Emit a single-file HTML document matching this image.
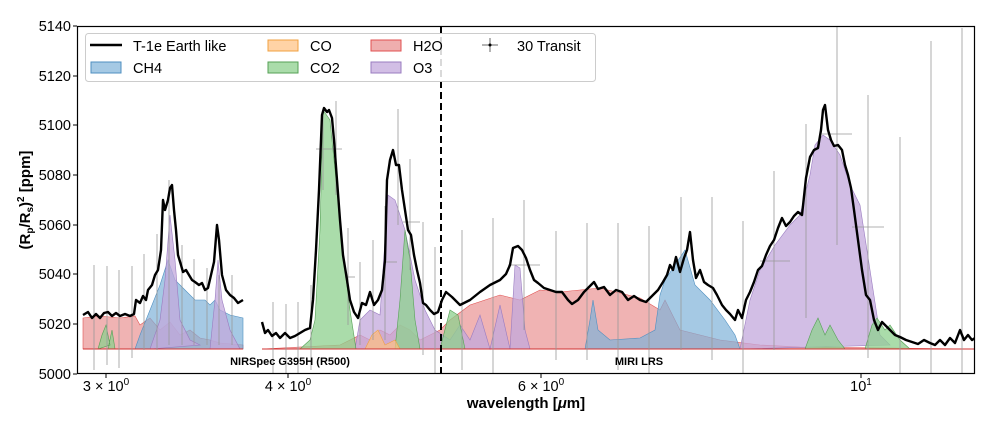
<!DOCTYPE html>
<html><head><meta charset="utf-8"><style>
body{margin:0;background:#fff;}
svg{display:block;font-family:"Liberation Sans","DejaVu Sans",sans-serif;}
</style></head><body>
<svg width="1000" height="422" viewBox="0 0 1000 422" xmlns="http://www.w3.org/2000/svg">
<defs><clipPath id="c"><rect x="77" y="26" width="898" height="348"/></clipPath></defs>
<g clip-path="url(#c)">
<!-- H2O fills -->
<g fill="#e88b8b" fill-opacity="0.65" stroke="#e05050" stroke-width="0.6">
<path d="M83,349 L83,318 L100,316 L120,318 L135,316 L140,325 L150,318 L160,330 L170,322 L180,335 L190,330 L200,338 L210,340 L220,343 L243,345 L243,349Z"/>
<path d="M262,349 L300,347 L340,345 L350,340 L360,335 L370,340 L380,330 L390,335 L400,325 L410,330 L420,340 L430,335 L440,330 L450,320 L470,305 L500,295 L520,300 L540,290 L560,292 L600,288 L640,298 L660,310 L665,300 L680,330 L700,335 L720,340 L760,345 L800,347 L975,349Z"/>
</g>
<!-- CH4 -->
<g fill="#7fb2d8" fill-opacity="0.7" stroke="#4f8fc0" stroke-width="0.6">
<path d="M135,349 L140,335 L150,310 L160,285 L168,260 L175,280 L185,290 L195,300 L205,300 L210,305 L215,300 L220,310 L230,315 L243,318 L243,349Z"/>
<path d="M585,349 L590,320 L593,300 L598,330 L610,340 L640,338 L655,330 L660,295 L665,280 L675,265 L685,250 L695,285 L710,300 L725,320 L735,335 L740,349Z"/>
</g>
<!-- O3 -->
<g fill="#c3a8dc" fill-opacity="0.75" stroke="#9a7cc0" stroke-width="0.6">
<path d="M150,349 L160,320 L165,280 L170,215 L175,260 L180,320 L190,340 L200,345Z"/>
<path d="M210,349 L215,300 L218,260 L222,300 L230,330 L240,349Z"/>
<path d="M355,349 L360,320 L370,310 L380,315 L388,195 L395,200 L405,230 L415,280 L425,310 L435,330 L450,340 L460,325 L470,340 L480,315 L490,349 L500,305 L510,349 L515,265 L520,268 L525,330 L530,349Z"/>
<path d="M740,349 L750,300 L760,270 L775,245 L790,225 L800,215 L810,175 L815,145 L823,135 L830,140 L840,155 L850,185 L860,205 L870,270 L880,335 L890,345Z"/>
</g>
<!-- CO2 -->
<g fill="#8ed08e" fill-opacity="0.75" stroke="#55a055" stroke-width="0.6">
<path d="M98,349 L102,335 L106,325 L110,345 Z M108,349 L112,330 L115,349Z"/>
<path d="M300,349 L310,340 L315,320 L320,230 L323,110 L330,120 L335,170 L340,220 L345,270 L350,310 L356,349Z"/>
<path d="M395,349 L400,300 L405,230 L410,260 L415,320 L420,349Z"/>
<path d="M440,349 L450,310 L458,315 L465,349Z"/>
<path d="M805,349 L812,330 L818,318 L825,335 L830,325 L838,340 L845,349Z M865,349 L872,325 L877,318 L885,330 L890,325 L900,340 L910,349Z"/>
</g>
<!-- CO -->
<path d="M365,349 L372,335 L378,330 L385,345 L395,340 L400,349Z" fill="#ffc080" fill-opacity="0.7" stroke="#f0a040" stroke-width="0.6"/>
<!-- baseline -->
<line x1="83" y1="349" x2="243" y2="349" stroke="#d03030" stroke-width="1"/>
<line x1="262" y1="349" x2="975" y2="349" stroke="#d03030" stroke-width="1"/>
<!-- error bars -->
<g stroke="#999" stroke-width="0.8">
<line x1="94" y1="265" x2="94" y2="370"/><line x1="107" y1="266" x2="107" y2="365"/><line x1="119" y1="270" x2="119" y2="368"/><line x1="132" y1="266" x2="132" y2="358"/>
<line x1="144" y1="254" x2="144" y2="350"/><line x1="157" y1="234" x2="157" y2="350"/><line x1="169" y1="180" x2="169" y2="345"/><line x1="182" y1="245" x2="182" y2="345"/>
<line x1="194" y1="259" x2="194" y2="345"/><line x1="207" y1="268" x2="207" y2="345"/><line x1="219" y1="275" x2="219" y2="345"/><line x1="232" y1="275" x2="232" y2="345"/>
<line x1="273" y1="302" x2="273" y2="380"/><line x1="286" y1="304" x2="286" y2="380"/><line x1="298" y1="302" x2="298" y2="380"/><line x1="311" y1="285" x2="311" y2="370"/>
<line x1="323" y1="110" x2="323" y2="190"/><line x1="336" y1="101" x2="336" y2="195"/><line x1="348" y1="228" x2="348" y2="325"/><line x1="360" y1="262" x2="360" y2="345"/>
<line x1="373" y1="240" x2="373" y2="340"/><line x1="385" y1="206" x2="385" y2="340"/><line x1="398" y1="109" x2="398" y2="225"/><line x1="410" y1="159" x2="410" y2="270"/>
<line x1="423" y1="222" x2="423" y2="355"/><line x1="435" y1="247" x2="435" y2="374"/><line x1="462" y1="230" x2="462" y2="370"/><line x1="493" y1="218" x2="493" y2="374"/>
<line x1="524" y1="200" x2="524" y2="330"/><line x1="556" y1="231" x2="556" y2="360"/><line x1="587" y1="223" x2="587" y2="360"/><line x1="618" y1="223" x2="618" y2="370"/>
<line x1="649" y1="226" x2="649" y2="374"/><line x1="681" y1="197" x2="681" y2="350"/><line x1="712" y1="197" x2="712" y2="360"/><line x1="743" y1="221" x2="743" y2="374"/>
<line x1="774" y1="171" x2="774" y2="350"/><line x1="806" y1="124" x2="806" y2="318"/><line x1="837" y1="26" x2="837" y2="245"/><line x1="868" y1="95" x2="868" y2="358"/>
<line x1="900" y1="137" x2="900" y2="374"/><line x1="931" y1="41" x2="931" y2="374"/><line x1="962" y1="28" x2="962" y2="374"/>
<line x1="760" y1="261" x2="790" y2="261"/><line x1="822" y1="134" x2="852" y2="134"/><line x1="852" y1="227" x2="884" y2="227"/><line x1="508" y1="265" x2="540" y2="265"/>
<line x1="316" y1="149" x2="342" y2="149"/><line x1="385" y1="262" x2="397" y2="262"/><line x1="403" y1="222" x2="420" y2="222"/><line x1="345" y1="277" x2="355" y2="277"/>
</g>
<!-- dashed -->
<line x1="441" y1="26" x2="441" y2="374" stroke="#000" stroke-width="2" stroke-dasharray="7,4"/>
<!-- main line -->
<g fill="none" stroke="#000" stroke-width="2.4" stroke-linejoin="round">
<polyline points="83,315 88,312 92,318 96,314 100,318 104,313 108,312 112,316 116,313 120,316 125,314 130,316 134,314 136,300 140,303 143,296 146,300 148,290 152,285 155,275 158,270 161,250 163,200 165,210 168,200 170,188 172,185 174,210 176,230 178,255 181,265 183,272 186,270 189,275 192,280 195,282 199,285 202,283 205,290 208,288 211,275 214,262 217,225 219,240 222,275 226,290 230,295 234,298 238,303 243,300"/>
<polyline points="262,322 265,333 268,330 272,336 276,333 280,338 285,333 290,338 295,336 300,333 305,330 310,328 313,300 316,250 319,190 322,115 324,108 327,112 329,110 332,118 334,140 337,180 340,220 343,255 347,280 350,300 354,312 358,318 362,303 366,305 370,292 374,305 378,300 382,290 385,260 387,180 390,160 393,150 396,165 399,165 402,190 405,210 408,230 411,235 414,255 417,270 420,283 423,303 426,305 430,310 434,314 438,312 442,300 446,292 452,297 460,305 470,300 480,292 490,285 500,280 506,274 510,265 513,248 518,246 522,250 526,258 530,270 534,280 538,283 544,288 550,290 556,292 562,292 568,300 572,304 578,300 584,292 590,286 594,282 598,289 604,287 610,295 616,290 622,292 628,300 634,296 640,300 646,302 652,296 658,290 663,282 667,275 670,265 673,270 676,257 680,272 684,258 687,250 690,232 693,260 696,278 700,270 704,282 708,285 713,288 717,295 722,305 726,310 730,314 735,320 738,310 742,318 746,300 750,292 754,282 758,270 762,266 766,255 770,246 774,240 778,228 782,218 786,226 790,222 794,216 798,212 802,215 806,178 810,157 814,150 818,148 821,130 823,110 825,105 828,130 831,140 834,146 838,145 842,150 845,165 848,175 851,188 854,210 858,240 862,270 866,295 870,300 874,320 878,330 882,322 886,326 890,330 895,335 900,337 906,340 912,342 918,344 924,340 930,343 935,345 940,340 945,345 950,338 955,343 960,330 964,340 968,335 972,340 975,338"/>
</g>
</g>
<!-- axes frame -->
<rect x="77.5" y="26.5" width="897" height="347" fill="none" stroke="#000" stroke-width="1.2"/>
<!-- y ticks -->
<g stroke="#000" stroke-width="1">
<line x1="73" y1="374" x2="77" y2="374"/><line x1="73" y1="324" x2="77" y2="324"/><line x1="73" y1="274" x2="77" y2="274"/><line x1="73" y1="225" x2="77" y2="225"/><line x1="73" y1="175" x2="77" y2="175"/><line x1="73" y1="125" x2="77" y2="125"/><line x1="73" y1="76" x2="77" y2="76"/><line x1="73" y1="26" x2="77" y2="26"/>
<line x1="106" y1="374" x2="106" y2="378"/><line x1="288" y1="374" x2="288" y2="378"/><line x1="541" y1="374" x2="541" y2="378"/><line x1="861" y1="374" x2="861" y2="378"/>
</g>
<g font-size="14.5" text-anchor="end" fill="#000">
<text x="71" y="379">5000</text><text x="71" y="329">5020</text><text x="71" y="279">5040</text><text x="71" y="230">5060</text><text x="71" y="180">5080</text><text x="71" y="130">5100</text><text x="71" y="81">5120</text><text x="71" y="31">5140</text>
</g>
<g font-size="14.5" text-anchor="middle">
<text x="106" y="391">3 × 10<tspan dy="-6" font-size="10">0</tspan></text>
<text x="288" y="391">4 × 10<tspan dy="-6" font-size="10">0</tspan></text>
<text x="541" y="391">6 × 10<tspan dy="-6" font-size="10">0</tspan></text>
<text x="861" y="391">10<tspan dy="-6" font-size="10">1</tspan></text>
</g>
<text x="526" y="408" font-size="15" font-weight="bold" text-anchor="middle">wavelength [<tspan font-style="italic">μ</tspan>m]</text>
<text transform="translate(30,200) rotate(-90)" font-size="15" font-weight="bold" text-anchor="middle">(R<tspan font-size="10" dy="3">p</tspan><tspan dy="-3">/R</tspan><tspan font-size="10" dy="3">s</tspan><tspan dy="-3">)</tspan><tspan font-size="10" dy="-6">2</tspan><tspan dy="6"> [ppm]</tspan></text>
<text x="290" y="365" font-size="11" font-weight="bold" text-anchor="middle">NIRSpec G395H (R500)</text>
<text x="639" y="365" font-size="11" font-weight="bold" text-anchor="middle">MIRI LRS</text>
<!-- legend -->
<rect x="85.5" y="33.5" width="510" height="48" rx="3" fill="#fff" fill-opacity="0.85" stroke="#ccc"/>
<line x1="90" y1="45" x2="122" y2="45" stroke="#000" stroke-width="2.4"/>
<rect x="91" y="62" width="30" height="11" fill="#7fb2d8" fill-opacity="0.7" stroke="#4f8fc0"/>
<rect x="268" y="40" width="30" height="11" fill="#ffc080" fill-opacity="0.7" stroke="#f0a040"/>
<rect x="268" y="62" width="30" height="11" fill="#8ed08e" fill-opacity="0.75" stroke="#55a055"/>
<rect x="371" y="40" width="30" height="11" fill="#e88b8b" fill-opacity="0.7" stroke="#e05050"/>
<rect x="371" y="62" width="30" height="11" fill="#c3a8dc" fill-opacity="0.75" stroke="#9a7cc0"/>
<g stroke="#444" stroke-width="0.8"><line x1="482" y1="45" x2="498" y2="45"/><line x1="490" y1="38" x2="490" y2="52"/></g>
<circle cx="490" cy="45" r="1.5" fill="#000"/>
<g font-size="14.5"><text x="133" y="51">T-1e Earth like</text><text x="133" y="73">CH4</text><text x="310" y="51">CO</text><text x="310" y="73">CO2</text><text x="413" y="51">H2O</text><text x="413" y="73">O3</text><text x="517" y="51">30 Transit</text></g>
</svg>
</body></html>
